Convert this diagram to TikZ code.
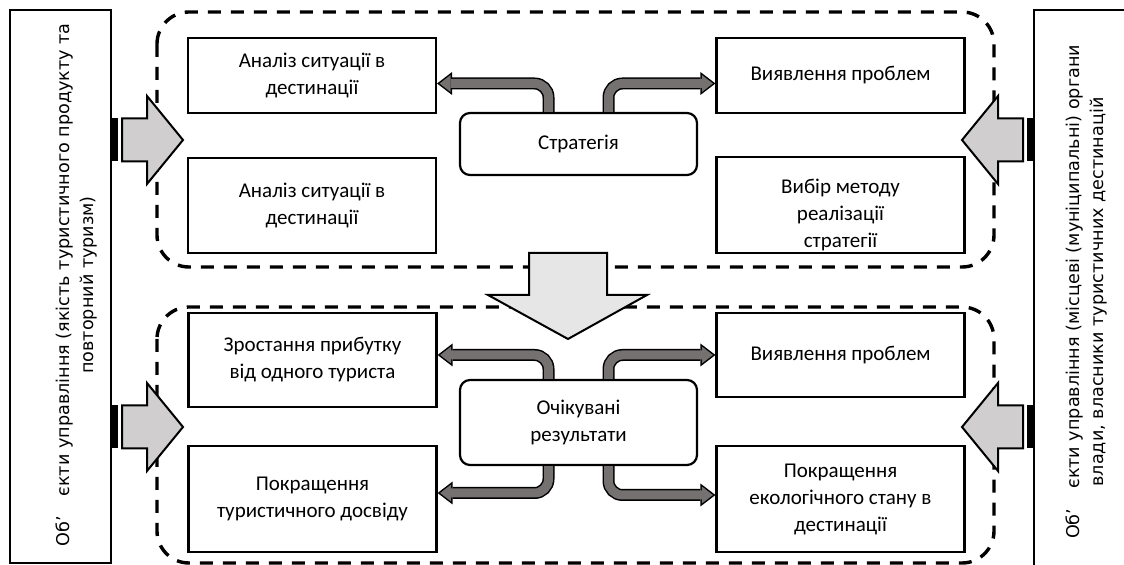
\documentclass[tikz,border=0pt]{standalone}
\usepackage{fontspec}
\setmainfont{Carlito}
\newfontfamily\sidefont{DejaVu Sans}
\usetikzlibrary{arrows.meta}
\definecolor{bentgray}{RGB}{118,113,113}
\definecolor{sidegray}{RGB}{208,206,206}
\definecolor{downgray}{RGB}{231,230,230}
\tikzset{
  box/.style={draw, line width=1.1pt, minimum width=124pt, inner sep=0pt,
    align=center, font=\fontsize{10.5}{13.5}\selectfont},
  boxtext/.style={inner sep=0pt, align=center, font=\fontsize{10.5}{13.5}\selectfont},
  roundbox/.style={box, rounded corners=5pt, minimum width=118.5pt},
  zone/.style={draw, line width=1.7pt, dash pattern=on 6.5pt off 5pt, rounded corners=16pt},
  sidebox/.style={draw, line width=1.1pt, inner sep=0pt},
  sidetext/.style={rotate=90, align=center, inner sep=0pt,
    font=\sidefont\fontsize{8.8}{12}\selectfont},
  blockarrow/.style={draw, line width=1pt, line join=miter},
  bent/.style={draw=black, line width=6pt, rounded corners=7pt,
    -{Triangle[length=7.5pt,width=11.5pt,line width=0pt]},
    postaction={draw=bentgray, line width=4.5pt, shorten >=1.25pt,
      -{Triangle[length=5.5pt,width=8.5pt,line width=0pt]}}}
}
% striped block arrow: #1 x of box edge, #2 centre y, #3 direction (1 or -1)
\newcommand{\stripedarrow}[3]{%
  \begin{scope}[shift={(#1,#2)}, xscale=#3]
    \fill (0,-21.5) rectangle (7,21.5);
    \draw[blockarrow, fill=sidegray] (11,-21.5) -- (36,-21.5) -- (36,-44) -- (72,0)
      -- (36,44) -- (36,21.5) -- (11,21.5) -- cycle;
  \end{scope}}

\begin{document}
\begin{tikzpicture}[x=0.5pt, y=-0.5pt]
\useasboundingbox (0,0) rectangle (1124,565);
\clip (0,0) rectangle (1124,565);

% dashed zones
\draw[zone] (157,12) rectangle (994,267);
\draw[zone] (157,307) rectangle (994,563);

% side boxes
\node[sidebox, minimum width=50.5pt, minimum height=276.5pt] (lside) at (60.5,286.5) {};
\node[sidebox, minimum width=60pt, minimum height=290pt] (rside) at (1094,300) {};
\node[sidetext] (ltext) at (76,285)
  {Об’\hspace{10pt}єкти управління (якість туристичного продукту та\\повторний туризм)};
\node[sidetext] (rtext) at (1086,292)
  {Об’\hspace{10pt}єкти управління (місцеві (муніципальні) органи\\влади, власники туристичних дестинацій};

\stripedarrow{111}{140}{1}
\stripedarrow{111}{427}{1}
\stripedarrow{1034}{140}{-1}
\stripedarrow{1034}{427}{-1}

% arrow between the zones
\draw[blockarrow, fill=downgray] (529,253) -- (607,253) -- (607,295) -- (647,295)
  -- (568,339) -- (488,295) -- (529,295) -- cycle;

% strategy
\node[box, minimum height=37.5pt] (a1) at (312,75.5) {Аналіз ситуації в\\дестинації};
\node[box, minimum height=47.5pt] (a2) at (312,205.5) {Аналіз ситуації в\\дестинації};
\node[box, minimum height=37.5pt] (b1) at (840.5,75.5) {Виявлення проблем};
\node[box, minimum height=48pt] (b2) at (840.5,205) {};
\node[boxtext] (b2text) at ([yshift=-5pt]b2.center) {Вибір методу\\реалізації\\стратегії};
\node[roundbox, minimum height=31pt] (strat) at (578.5,144) {Стратегія};

% results
\node[box, minimum height=47pt] (c1) at (312.5,360) {Зростання прибутку\\від одного туриста};
\node[box, minimum height=42pt] (d1) at (840.5,355) {Виявлення проблем};
\node[box, minimum height=53pt] (c2) at (312.5,499) {Покращення\\туристичного досвіду};
\node[box, minimum height=53pt] (d2) at (840.5,499) {Покращення\\екологічного стану в\\дестинації};
\node[roundbox, minimum height=42.5pt] (res) at (578.5,422.5) {Очікувані\\результати};

\draw[bent] ([xshift=-15pt]strat.north) |- ([yshift=-4pt]a1.east);
\draw[bent] ([xshift=15pt]strat.north) |- ([yshift=-4pt]b1.west);
\draw[bent] ([xshift=-15pt]res.north) |- ([yshift=2.5pt]c1.east);
\draw[bent] ([xshift=15pt]res.north) |- (d1.west);
\draw[bent] ([xshift=-15pt]res.south) |- ([yshift=3pt]c2.east);
\draw[bent] ([xshift=15pt]res.south) |- ([yshift=2pt]d2.west);
\end{tikzpicture}
\end{document}
